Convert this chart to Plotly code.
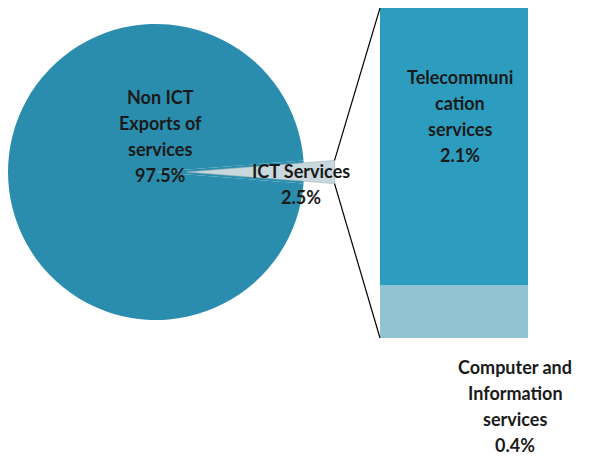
import math
import plotly.graph_objects as go

# ---- data ----
pie_labels = ["ICT Services", "Non ICT Exports of services"]
pie_text = ["ICT Services", "Non ICT<br>Exports of<br>services"]
pie_values = [2.5, 97.5]

bar_labels = ["Computer and Information services", "Telecommunication services"]
bar_text = ["Computer and<br>Information<br>services", "Telecommuni<br>cation<br>services"]
bar_values = [0.4, 2.1]

# ---- layout geometry (page pixels) ----
W, H = 589, 458
OFF = 8                      # page body margin
FW, FH = W - OFF, H - OFF    # figure size
pie_cx, pie_cy, pie_r = 156, 172, 148
pull_px = 31
bar_x0, bar_x1, bar_top, bar_bot = 380, 528, 8, 338

FONT = "Lato, Liberation Sans, sans-serif"
FS = 18
LINE_H = 26
TXT = "#1a1a1a"
PIE_COL = "#2a8dad"
SLIVER_COL = "#c9d8dd"
TEL_COL = "#2d9dbf"
CMP_COL = "#92c3d3"


def px2x(px):
    return (px - OFF) / FW


def py2y(py):
    return 1 - (py - OFF) / FH


ict_share = pie_values[0] / sum(pie_values)
half_ang = 360 * ict_share / 2
rotation = 90 - half_ang

fig = go.Figure()

# main pie (full disk; the ICT slice is shown pulled out by the overlay pie)
fig.add_trace(go.Pie(
    labels=pie_labels, values=pie_values, sort=False, direction="clockwise",
    rotation=rotation, marker=dict(colors=[PIE_COL, PIE_COL], line=dict(width=0)),
    textinfo="none", hoverinfo="label+percent", showlegend=False,
    domain=dict(x=[px2x(pie_cx - pie_r), px2x(pie_cx + pie_r)],
                y=[py2y(pie_cy + pie_r), py2y(pie_cy - pie_r)]),
))

# exploded ICT slice
fig.add_trace(go.Pie(
    labels=pie_labels, values=pie_values, sort=False, direction="clockwise",
    rotation=rotation,
    marker=dict(colors=[SLIVER_COL, "rgba(0,0,0,0)"],
                line=dict(width=0.6, color=["#9fb3ba", "rgba(0,0,0,0)"])),
    textinfo="none", hoverinfo="skip", showlegend=False,
    domain=dict(x=[px2x(pie_cx + pull_px - pie_r), px2x(pie_cx + pull_px + pie_r)],
                y=[py2y(pie_cy + pie_r), py2y(pie_cy - pie_r)]),
))

# stacked bar of ICT breakdown
for lab, val, col in zip(bar_labels, bar_values, [CMP_COL, TEL_COL]):
    fig.add_trace(go.Bar(
        x=[0], y=[val], name=lab, width=1, marker=dict(color=col, line=dict(width=0)),
        showlegend=False, hovertemplate=lab + ": %{y}%<extra></extra>",
    ))

fig.update_layout(
    width=FW, height=FH, margin=dict(l=0, r=0, t=0, b=0),
    paper_bgcolor="white", plot_bgcolor="rgba(0,0,0,0)",
    barmode="stack",
    xaxis=dict(domain=[px2x(bar_x0), px2x(bar_x1)], range=[-0.5, 0.5], visible=False, fixedrange=True),
    yaxis=dict(domain=[py2y(bar_bot), py2y(bar_top)], range=[0, sum(bar_values)], visible=False, fixedrange=True),
    font=dict(family=FONT, size=FS, color=TXT),
)

# connector lines from slice outer corners to bar corners
scx = pie_cx + pull_px
cx_end = scx + pie_r * math.cos(math.radians(half_ang))
dy = pie_r * math.sin(math.radians(half_ang))
for (sy, ey) in [(pie_cy - dy, bar_top), (pie_cy + dy, bar_bot)]:
    fig.add_shape(type="line", xref="paper", yref="paper",
                  x0=px2x(cx_end), y0=py2y(sy), x1=px2x(bar_x0), y1=py2y(ey),
                  line=dict(color="black", width=1.2))

# labels (one annotation per line to match the line spacing)
pct = [v / sum(pie_values) * 100 for v in pie_values]
annots = [
    (pie_text[1] + "<br>%.1f%%" % pct[1], 160, 97),
    (pie_text[0] + "<br>%.1f%%" % pct[0], 301, 171),
    (bar_text[1] + "<br>%.1f%%" % bar_values[1], 460, 77),
    (bar_text[0] + "<br>%.1f%%" % bar_values[0], 515, 367),
]
for txt, x, y in annots:
    for i, line in enumerate(txt.split("<br>")):
        fig.add_annotation(text=line, xref="paper", yref="paper", x=px2x(x), y=py2y(y + i * LINE_H),
                           xanchor="center", yanchor="middle", showarrow=False,
                           font=dict(family=FONT, size=FS, color=TXT, weight="bold"))

fig.write_html("out.html")
